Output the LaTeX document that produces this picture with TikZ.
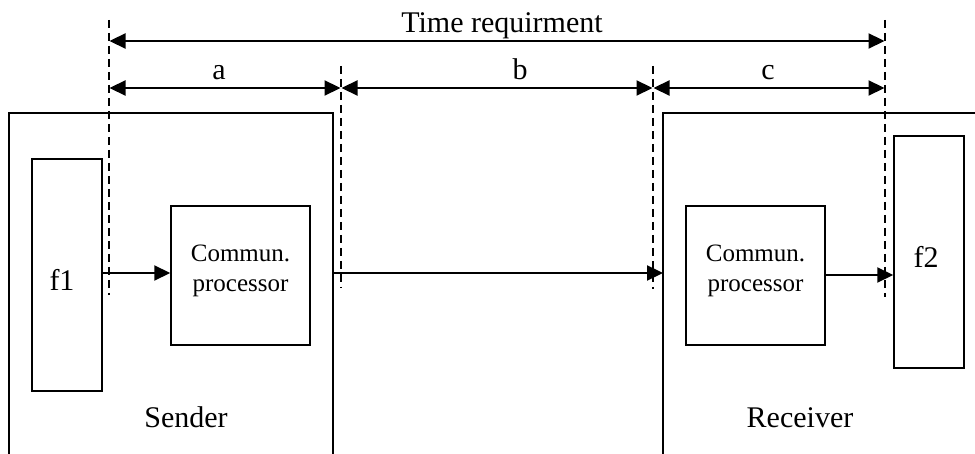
\documentclass[tikz,border=0pt]{standalone}
\usepackage{fontspec}
\setmainfont{Liberation Serif}
\usetikzlibrary{arrows.meta}
\begin{document}
\begin{tikzpicture}[x=1pt,y=-1pt,
  boxline/.style={line width=1.5pt},
  dimline/.style={line width=2.2pt,{Triangle[length=16pt,width=15pt]}-{Triangle[length=16pt,width=15pt]},shorten <=0.5pt,shorten >=0.5pt},
  flow/.style={line width=2.2pt,-{Triangle[length=16pt,width=15pt]}},
  guide/.style={line width=1.3pt,dash pattern=on 8pt off 5pt},
  bigtext/.style={font=\fontsize{30}{36}\selectfont,inner sep=0pt,anchor=base},
  smalltext/.style={font=\fontsize{25}{30}\selectfont,inner sep=0pt,align=center}]
\useasboundingbox (0,0) rectangle (975,454);
% open-bottom sender and receiver frames
\coordinate (sbl) at (9,454);
\coordinate (stl) at (9,113);
\coordinate (str) at (333,113);
\coordinate (sbr) at (333,454);
\draw[boxline] (sbl) -- (stl) -- (str) -- (sbr);
\coordinate (rbl) at (663,454);
\coordinate (rtl) at (663,113);
\coordinate (rtr) at (975,113);
\draw[boxline] (rbl) -- (rtl) -- (rtr);
% blocks
\node[draw,line width=1.5pt,inner sep=0pt,minimum width=70pt,minimum height=232pt] (f1) at (67,275) {};
\node[draw,line width=1.5pt,inner sep=0pt,minimum width=139pt,minimum height=139pt] (cp1) at (240.5,275.5) {};
\node[draw,line width=1.5pt,inner sep=0pt,minimum width=139pt,minimum height=139pt] (cp2) at (755.5,275.5) {};
\node[draw,line width=1.5pt,inner sep=0pt,minimum width=70pt,minimum height=232pt] (f2) at (929,252) {};
% texts
\node[bigtext] (tf1) at (62,291) {f1};
\node[bigtext] (tf2) at (926,268) {f2};
\node[smalltext] (tcp1) at (240.5,271) {Commun.\\processor};
\node[smalltext] (tcp2) at (755.5,271) {Commun.\\processor};
\node[bigtext] (tsend) at (186,427) {Sender};
\node[bigtext] (trecv) at (800,427) {Receiver};
\node[bigtext] (ttime) at (502,33) {Time requirment};
\node[bigtext] (ta) at (219,80) {a};
\node[bigtext] (tb) at (520,80) {b};
\node[bigtext] (tc) at (768,80) {c};
% guide lines
\coordinate (g1t) at (109,20);  \coordinate (g1b) at (109,295);
\coordinate (g2t) at (341,66);  \coordinate (g2b) at (341,288);
\coordinate (g3t) at (653,66);  \coordinate (g3b) at (653,289);
\coordinate (g4t) at (885,20);  \coordinate (g4b) at (885,297);
\draw[guide] (g1t) -- (g1b);
\draw[guide] (g2t) -- (g2b);
\draw[guide] (g3t) -- (g3b);
\draw[guide] (g4t) -- (g4b);
% dimension arrows
\coordinate (d1) at (109,41); \coordinate (d4) at (885,41);
\draw[dimline] (d1) -- (d4);
\coordinate (e1) at (109,88); \coordinate (e2) at (341,88);
\coordinate (e3) at (653,88); \coordinate (e4) at (885,88);
\draw[dimline] (e1) -- (e2);
\draw[dimline] (e2) -- (e3);
\draw[dimline] (e3) -- (e4);
% flow arrows
\draw[flow] (f1.east |- 0,273) -- (cp1.west |- 0,273);
\coordinate (l1) at (333,273);
\coordinate (l2) at (663,273);
\draw[flow] (l1) -- (l2);
\draw[flow] (cp2.east |- 0,275) -- (f2.west |- 0,275);
\end{tikzpicture}
\end{document}
